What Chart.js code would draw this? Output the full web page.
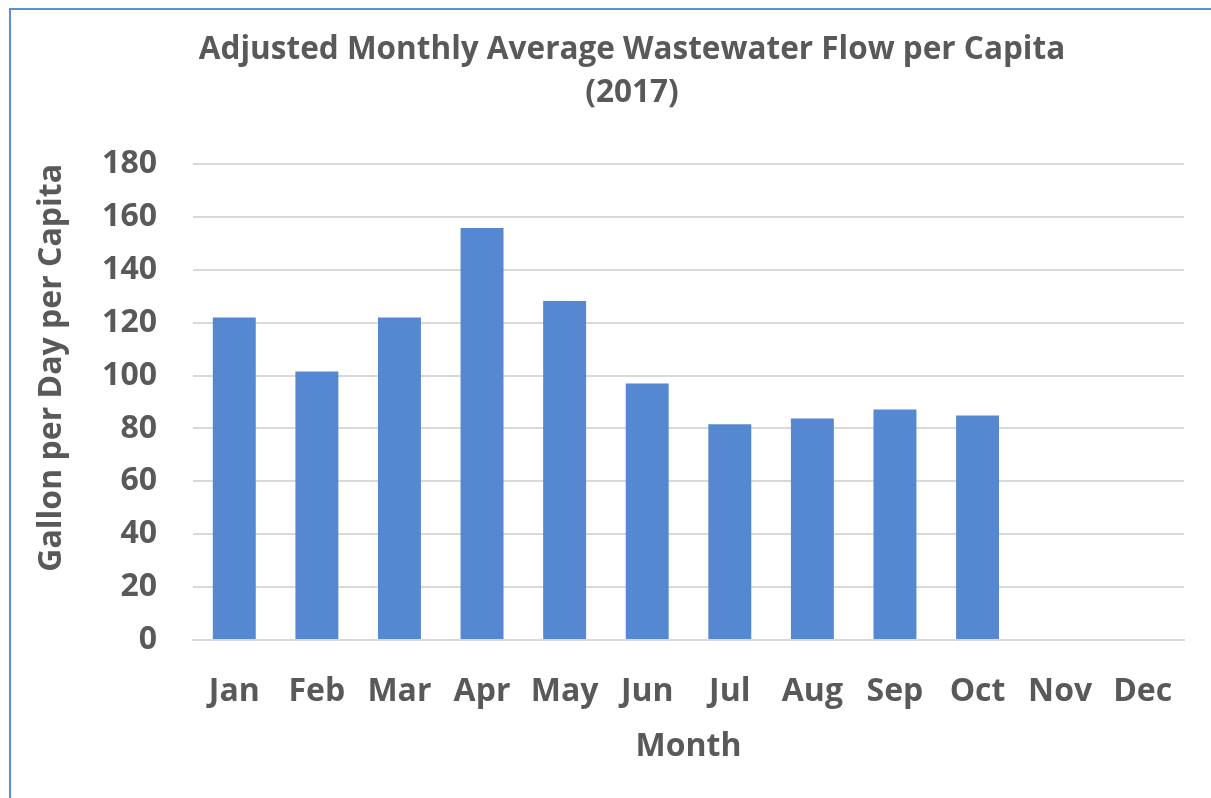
<!DOCTYPE html>
<html>
<head>
<meta charset="utf-8">
<script src="https://cdn.jsdelivr.net/npm/chart.js@4"></script>
<style>
    body { margin: 0; background: #fff; }
    #wrap { position: relative; width: 1211px; height: 798px; overflow: hidden; }
    #frame { position: absolute; left: 9px; top: 8px; right: -5px; bottom: -5px; border-left: 2px solid #5b8fdc; border-top: 2px solid #5b8fdc; }
    #myChart { position: absolute; left: 0; top: 0; }
</style>
</head>
<body>
<div id="wrap">
    <div id="frame"></div>
    <canvas id="myChart" width="1211" height="798"></canvas>
</div>
<script>
    // chart data
    const monthList = ["Jan", "Feb", "Mar", "Apr", "May", "Jun", "Jul", "Aug", "Sep", "Oct", "Nov", "Dec"];
    const flowList = [122, 101.5, 122, 155.8, 128.2, 97, 81.6, 83.8, 87.2, 84.9, null, null];
    const titleLines = ["Adjusted Monthly Average Wastewater Flow per Capita", "(2017)"];
    const yTitle = "Gallon per Day per Capita";
    const xTitle = "Month";

    const textColor = "#595959";
    const fontName = "'Open Sans', sans-serif";
    const bigFont = { family: fontName, size: 32, weight: "bold" };

    // title drawn by hand so it can sit off-centre like the original
    const titlePlugin = {
        id: "titlePlugin",
        afterDraw(chart) {
            const c = chart.ctx;
            c.save();
            c.fillStyle = textColor;
            c.font = "bold 31.5px " + fontName;
            c.textAlign = "center";
            c.textBaseline = "middle";
            c.fillText(titleLines[0], 632, 50);
            c.fillText(titleLines[1], 632, 93);
            c.restore();
        },
    };

    const ctx = document.getElementById("myChart");
    new Chart(ctx, {
        type: "bar",
        data: {
            labels: monthList,
            datasets: [
                {
                    backgroundColor: "#5588D1",
                    data: flowList,
                    barPercentage: 0.52,
                    categoryPercentage: 1,
                },
            ],
        },
        plugins: [titlePlugin],
        options: {
            responsive: false,
            animation: false,
            devicePixelRatio: 1,
            layout: {
                padding: { top: 164, left: 33, right: 27, bottom: 32 },
            },
            plugins: {
                legend: { display: false },
                tooltip: { enabled: false },
                title: { display: false },
            },
            scales: {
                y: {
                    min: 0,
                    max: 180,
                    afterFit: function (scale) {
                        scale.width = 160;
                    },
                    ticks: {
                        stepSize: 20,
                        padding: 36,
                        color: textColor,
                        font: bigFont,
                    },
                    grid: {
                        color: "#D9D9D9",
                        lineWidth: 2,
                        drawTicks: false,
                    },
                    border: { display: false },
                    title: {
                        display: true,
                        text: yTitle,
                        align: "end",
                        color: textColor,
                        font: bigFont,
                        padding: 0,
                    },
                },
                x: {
                    afterFit: function (scale) {
                        scale.height = 126;
                    },
                    ticks: {
                        padding: 33,
                        color: textColor,
                        font: bigFont,
                    },
                    grid: { display: false, drawTicks: false },
                    border: { color: "#D9D9D9", width: 2 },
                    title: {
                        display: true,
                        text: xTitle,
                        color: textColor,
                        font: bigFont,
                        padding: 0,
                    },
                },
            },
        },
    });
</script>
</body>
</html>
